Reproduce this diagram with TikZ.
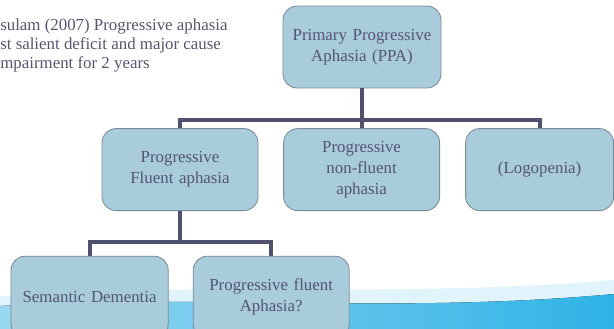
\documentclass[tikz,border=0pt]{standalone}
\usepackage{fontspec}
\setmainfont{Liberation Serif}
\newfontfamily\timesfont{Liberation Serif}
\usetikzlibrary{positioning}
\definecolor{boxfill}{HTML}{A8CCDA}
\definecolor{boxline}{HTML}{7C8A9C}
\definecolor{linkcol}{HTML}{50506F}
\definecolor{txtcol}{HTML}{555570}
\definecolor{wavelight}{HTML}{E2F4FB}
\definecolor{waveleft}{HTML}{9AD8F1}
\definecolor{wavemid}{HTML}{E4F5FB}
\definecolor{waveright}{HTML}{2FB3E6}
\tikzset{
  box/.style={draw=boxline,fill=boxfill,rounded corners=0.35cm,minimum height=2.05cm,
    text width=3.6cm,align=center,text=txtcol,line width=0.6pt,
    font=\timesfont\fontsize{12}{15}\selectfont},
  link/.style={draw=linkcol,line width=2.8pt}
}
\begin{document}
\begin{tikzpicture}
\useasboundingbox (0,0) rectangle (15.35,-8.225);
\clip (0,0) rectangle (15.35,-8.225);
% wave at the foot of the slide
\fill[wavelight] (0,-7.4) .. controls (5,-7.05) and (10,-7.45) .. (15.35,-7.0) -- (15.35,-8.225) -- (0,-8.225) -- cycle;
\fill[left color=waveleft,middle color=wavemid,right color=waveright] (0,-7.65) .. controls (5,-7.35) and (10,-7.85) .. (15.35,-7.35) -- (15.35,-8.225) -- (0,-8.225) -- cycle;
% note
\node[anchor=north west,inner sep=0pt,align=left,text=txtcol,font=\timesfont\fontsize{12}{13.5}\selectfont] (note) at (0,-0.47)
  {sulam (2007) Progressive aphasia\\st salient deficit and major cause\\mpairment for 2 years};
% tree
\node[box,minimum width=3.95cm] (ppa) at (9.05,-1.175) {Primary Progressive\\Aphasia (PPA)};
\node[box,minimum width=3.9cm] (fluent) at (4.5,-4.24) {Progressive\\Fluent aphasia};
\node[box,minimum width=3.9cm] (nonfluent) at (9.04,-4.24) {Progressive\\non-fluent\\aphasia};
\node[box,minimum width=3.7cm,text width=3.4cm] (logo) at (13.49,-4.24) {(Logopenia)};
\node[box,minimum width=3.93cm] (sd) at (2.24,-7.43) {Semantic Dementia};
\node[box,minimum width=3.9cm] (pfa) at (6.78,-7.43) {Progressive fluent\\Aphasia?};
\draw[link] (ppa.south) -- ++(0,-0.8) -| (fluent.north);
\draw[link] (ppa.south) -- ++(0,-0.8) -| (nonfluent.north);
\draw[link] (ppa.south) -- ++(0,-0.8) -| (logo.north);
\draw[link] (fluent.south) -- ++(0,-0.78) -| (sd.north);
\draw[link] (fluent.south) -- ++(0,-0.78) -| (pfa.north);
\end{tikzpicture}
\end{document}
